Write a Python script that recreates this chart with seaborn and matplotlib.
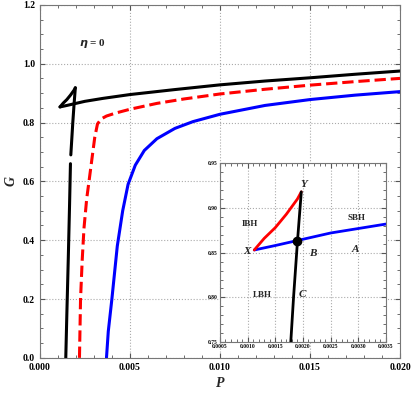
import matplotlib
matplotlib.use("Agg")
import matplotlib.pyplot as plt
import seaborn as sns
import numpy as np
from matplotlib.ticker import MultipleLocator

sns.set_style("ticks")
plt.rcParams['font.family'] = ['Liberation Serif', 'DejaVu Serif']
plt.rcParams['font.weight'] = 'bold'

# black (eta=0) branches
sbh_P = [0.00112, 0.0015, 0.0020, 0.0025, 0.0030, 0.0035, 0.005, 0.0075, 0.010, 0.0125, 0.015, 0.0175, 0.020]
sbh_G = [0.853, 0.858, 0.865, 0.872, 0.877, 0.882, 0.895, 0.912, 0.928, 0.941, 0.952, 0.964, 0.975]
ibh_P = [0.00112, 0.0013, 0.0015, 0.0017, 0.0019, 0.00197]
ibh_G = [0.853, 0.866, 0.878, 0.893, 0.910, 0.918]
lbh1_P = [0.00197, 0.00190, 0.00183, 0.00178, 0.00172]
lbh1_G = [0.918, 0.862, 0.800, 0.750, 0.690]
lbh2_P = [0.00170, 0.00165, 0.00158, 0.00150, 0.00144]
lbh2_G = [0.660, 0.520, 0.340, 0.150, 0.000]
# red dashed
red_P = [0.0022, 0.00226, 0.00235, 0.00245, 0.00260, 0.00273, 0.00290, 0.00305, 0.0032, 0.0034, 0.0037, 0.0042, 0.005, 0.0065, 0.008, 0.010, 0.0125, 0.015, 0.0175, 0.020]
red_G = [0.0, 0.20, 0.33, 0.44, 0.54, 0.60, 0.68, 0.75, 0.795, 0.812, 0.822, 0.832, 0.845, 0.865, 0.880, 0.897, 0.913, 0.927, 0.939, 0.950]
# blue
blue_P = [0.0037, 0.0038, 0.0040, 0.0043, 0.0046, 0.0049, 0.0053, 0.0058, 0.0065, 0.0075, 0.0085, 0.010, 0.0125, 0.015, 0.0175, 0.020]
blue_G = [0.0, 0.09, 0.20, 0.38, 0.50, 0.59, 0.655, 0.705, 0.745, 0.780, 0.803, 0.828, 0.858, 0.878, 0.893, 0.905]

fig = plt.figure(figsize=(4.15, 4.03), dpi=100)
ax = fig.add_axes([0.096, 0.112, 0.868, 0.876])

def draw(a, P, G, color, ls='-', lw=2.2):
    sns.lineplot(x=P, y=G, ax=a, color=color, linestyle=ls, lw=lw, sort=False, estimator=None)

draw(ax, sbh_P, sbh_G, 'black')
draw(ax, ibh_P, ibh_G, 'black')
draw(ax, lbh1_P, lbh1_G, 'black')
draw(ax, lbh2_P, lbh2_G, 'black')
draw(ax, red_P, red_G, 'red', '--')
draw(ax, blue_P, blue_G, 'blue')

ax.set_xlim(0, 0.02)
ax.set_ylim(0, 1.2)
ax.set_xticks([0, 0.005, 0.01, 0.015, 0.02])
ax.set_xticklabels(['0.000', '0.005', '0.010', '0.015', '0.020'])
ax.set_yticks(np.arange(0, 1.21, 0.2))
ax.set_yticklabels([f'{v:.1f}' for v in np.arange(0, 1.21, 0.2)])
ax.xaxis.set_minor_locator(MultipleLocator(0.001))
ax.yaxis.set_minor_locator(MultipleLocator(0.05))
ax.tick_params(labelsize=7, direction='in', top=True, right=True, which='both', colors='#555555', labelcolor='black')
ax.grid(True, ls=':', color='#aaaaaa', lw=0.8)
for s in ax.spines.values():
    s.set_color('#777777')
ax.set_xlabel('P', fontsize=10, style='italic', fontweight='bold')
ax.set_ylabel('G', fontsize=10, style='italic', fontweight='bold')
ax.text(0.0022, 1.06, r'$\boldsymbol{\eta}$ = 0', fontsize=8, fontweight='bold')

# inset
ins = fig.add_axes([0.53, 0.151, 0.40, 0.444])
ins.set_facecolor('white')
draw(ins, sbh_P[:6], sbh_G[:6], 'blue', lw=2)
draw(ins, ibh_P, ibh_G, 'red', lw=2)
draw(ins, lbh1_P, lbh1_G, 'black', lw=2)
ins.plot([0.0019], [0.863], 'o', color='black', ms=6)
ins.set_xlim(0.0005, 0.0035)
ins.set_ylim(0.75, 0.95)
ins.set_xticks(np.arange(0.0005, 0.00351, 0.0005))
ins.set_xticklabels([f'{v:.4f}' for v in np.arange(0.0005, 0.00351, 0.0005)])
ins.set_yticks([0.75, 0.8, 0.85, 0.9, 0.95])
ins.set_yticklabels(['0.75', '0.80', '0.85', '0.90', '0.95'])
ins.xaxis.set_minor_locator(MultipleLocator(0.0001))
ins.yaxis.set_minor_locator(MultipleLocator(0.01))
ins.tick_params(labelsize=4, direction='in', top=True, right=True, which='both', colors='#555555', labelcolor='black', pad=1.5)
ins.grid(True, ls=':', color='#aaaaaa', lw=0.8)
for s in ins.spines.values():
    s.set_color('#777777')
kw = dict(fontsize=8, style='italic', fontweight='bold')
ins.text(0.00093, 0.848, 'X', **kw)
ins.text(0.00195, 0.923, 'Y', **kw)
ins.text(0.00212, 0.846, 'B', **kw)
ins.text(0.00288, 0.851, 'A', **kw)
ins.text(0.00192, 0.800, 'C', **kw)
kw2 = dict(fontsize=6.5, fontweight='bold')
ins.text(0.0009, 0.880, 'IBH', **kw2)
ins.text(0.0028, 0.887, 'SBH', **kw2)
ins.text(0.0011, 0.800, 'LBH', **kw2)

fig.savefig('out.png', dpi=100)
